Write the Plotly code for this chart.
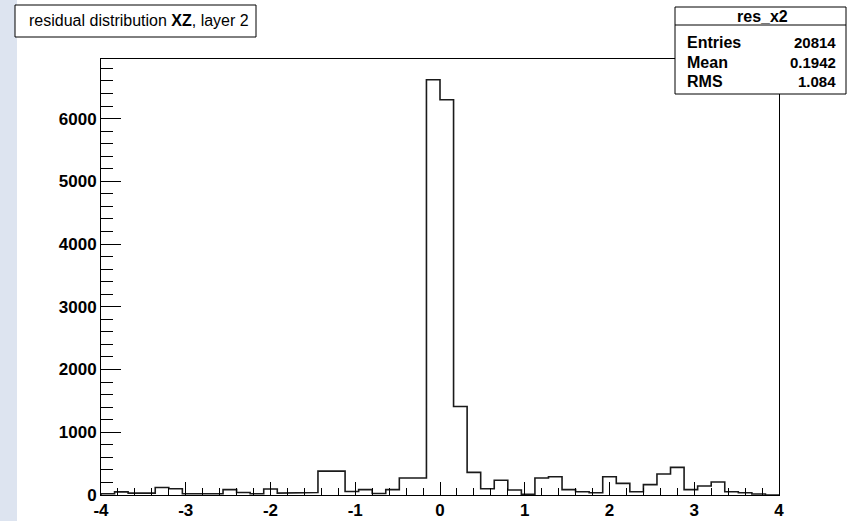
import numpy as np
import plotly.graph_objects as go

# ---- data ----
x_min, x_max, n_bins = -4.0, 4.0, 50
counts = [20, 50, 30, 30, 120, 100, 20, 20, 20, 85,
          40, 20, 95, 30, 40, 40, 380, 380, 55, 85,
          25, 85, 270, 270, 6620, 6300, 1410, 360, 100, 234,
          80, 10, 270, 290, 85, 53, 35, 290, 186, 53,
          165, 335, 441, 85, 144, 207, 53, 37, 15, 0]
x_ticks = [-4, -3, -2, -1, 0, 1, 2, 3, 4]
y_ticks = [0, 1000, 2000, 3000, 4000, 5000, 6000]
title_html = "residual distribution <b>XZ</b>, layer 2"
stats_name = "res_x2"
stats_labels = ["Entries", "Mean", "RMS"]
stats_values = ["20814", "0.1942", "1.084"]

edges = np.linspace(x_min, x_max, n_bins + 1)

# step outline
xs = [edges[0]]
ys = [0]
for i, c in enumerate(counts):
    xs += [edges[i], edges[i + 1]]
    ys += [c, c]
xs.append(edges[-1])
ys.append(0)

W, H = 848, 521
L, R, T, B = 101, 779, 59, 495
pw, ph = R - L, B - T


def px(x):
    return (x - L) / pw


def py(y):
    return (B - y) / ph


fig = go.Figure()
fig.add_trace(go.Scatter(x=xs, y=ys, mode="lines",
                         line=dict(color="#1a1a1a", width=1.6),
                         hoverinfo="skip", showlegend=False))

fam = "Liberation Sans, Arial, sans-serif"
xtickfont = dict(family=fam, size=17, color="black", weight="bold")
ytickfont = dict(family=fam, size=17, color="black", weight="bold")

fig.update_layout(
    width=W, height=H,
    margin=dict(l=L, r=W - R, t=T, b=H - B, pad=0, autoexpand=False),
    paper_bgcolor="white", plot_bgcolor="white",
    xaxis=dict(range=[x_min, x_max], tickvals=x_ticks,
               ticktext=[str(v) for v in x_ticks], automargin=False,
               ticks="inside", ticklen=13, tickwidth=1, tickcolor="black",
               showline=True, linecolor="black", linewidth=1, mirror=True,
               showgrid=False, zeroline=False, tickfont=xtickfont,
               ticklabelstandoff=0,
               minor=dict(ticks="inside", ticklen=7, dtick=0.2,
                          tickcolor="black", tickwidth=1, showgrid=False)),
    yaxis=dict(range=[0, 6950], tickvals=y_ticks, automargin=False,
               ticks="inside", ticklen=20, tickwidth=1, tickcolor="black",
               showline=True, linecolor="black", linewidth=1, mirror=True,
               showgrid=False, zeroline=False, tickfont=ytickfont,
               minor=dict(ticks="inside", ticklen=12, dtick=200,
                          tickcolor="black", tickwidth=1, showgrid=False)),
)

shapes = []
# left light strip
shapes.append(dict(type="rect", xref="paper", yref="paper",
                   x0=px(0), x1=px(17), y0=py(H), y1=py(0),
                   fillcolor="#dde4f0", line=dict(width=0), layer="below"))
# title box
shapes.append(dict(type="rect", xref="paper", yref="paper",
                   x0=px(15), x1=px(256), y0=py(37), y1=py(5),
                   fillcolor="white", line=dict(color="black", width=1)))
# stats box
shapes.append(dict(type="rect", xref="paper", yref="paper",
                   x0=px(675), x1=px(846), y0=py(94), y1=py(7),
                   fillcolor="white", line=dict(color="black", width=1)))
shapes.append(dict(type="line", xref="paper", yref="paper",
                   x0=px(675), x1=px(846), y0=py(25), y1=py(25),
                   line=dict(color="black", width=1)))
fig.update_layout(shapes=shapes)

ann = []
ann.append(dict(xref="paper", yref="paper", x=px(27), y=py(21),
                xanchor="left", yanchor="middle", showarrow=False,
                text=title_html,
                font=dict(family=fam, size=16, color="black")))
hfont = dict(family=fam, size=16, color="black", weight="bold")
lfont = dict(family=fam, size=16, color="black", weight="bold")
vfont = dict(family=fam, size=15, color="black", weight="bold")
ann.append(dict(xref="paper", yref="paper", x=px(762), y=py(16),
                xanchor="center", yanchor="middle", showarrow=False,
                text=stats_name, font=hfont))
for i, (lab, val) in enumerate(zip(stats_labels, stats_values)):
    yy = py(42 + 20 * i)
    ann.append(dict(xref="paper", yref="paper", x=px(685), y=yy,
                    xanchor="left", yanchor="middle", showarrow=False,
                    text=lab, font=lfont))
    ann.append(dict(xref="paper", yref="paper", x=px(838), y=yy,
                    xanchor="right", yanchor="middle", showarrow=False,
                    text=val, font=vfont))
fig.update_layout(annotations=ann)

fig.write_html("out.html")
